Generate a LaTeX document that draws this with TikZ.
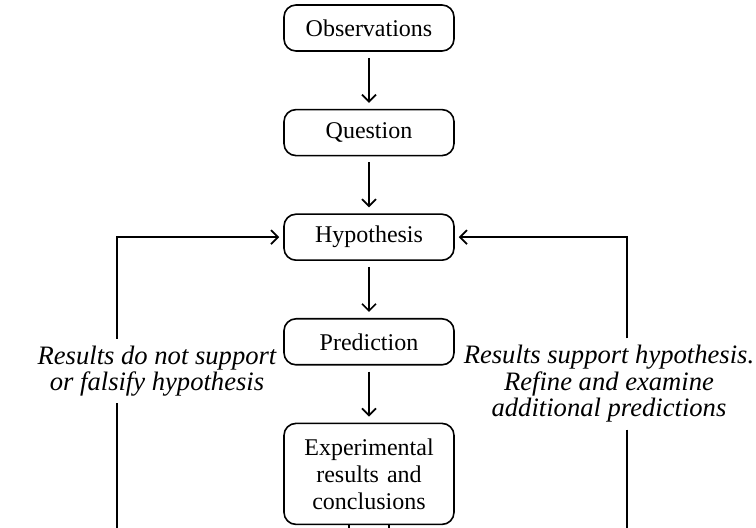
\documentclass[tikz,border=0pt]{standalone}
\usepackage{fontspec}
\setmainfont{Liberation Serif}
\usetikzlibrary{positioning}
\usetikzlibrary{arrows.meta}

\begin{document}
\begin{tikzpicture}[x=0.5pt,y=-0.5pt,
                stepbox/.style={draw,rounded corners=6pt,line width=0.8pt,
                    minimum width=85pt,minimum height=23pt,align=center,
                    font=\fontsize{12}{13.5}\selectfont},
                remark/.style={align=center,font=\fontsize{13.3}{13.2}\selectfont\itshape},
                flow/.style={-{Straight Barb[length=3.5pt,width=7pt]},line width=0.85pt,
                    shorten >=3pt,shorten <=3pt},
                loop/.style={-{Straight Barb[length=3.5pt,width=7pt]},line width=0.85pt},
                node distance=28.5pt]
   \useasboundingbox (0,0) rectangle (756,528);
   \node[stepbox] (obs) at (369,28) {Observations};
   \node[stepbox,below=of obs] (quest) {Question};
   \node[stepbox,below=of quest] (hyp) {Hypothesis};
   \node[stepbox,below=of hyp] (pred) {Prediction};
   \node[stepbox,below=of pred,text width=70pt,minimum height=50.5pt,inner sep=4pt] (exp) {Experimental\\results and\\conclusions};
   % side paths
   \coordinate (lx) at (117,0);
   \coordinate (rx) at (627,0);
   \coordinate (bot) at (371,560);
   \node[remark] (nosupport) at (157,371) {Results do not support\\or falsify hypothesis};
   \node[remark] (support) at (609,384) {Results support hypothesis.\\Refine and examine\\additional predictions};
   \draw[flow] (obs) -- (quest);
   \draw[flow] (quest) -- (hyp);
   \draw[flow] (hyp) -- (pred);
   \draw[flow] (pred) -- (exp);
   \draw[loop] (nosupport.north -| lx) |- ([xshift=-2pt]hyp.west);
   \draw[line width=0.85pt] (nosupport.south -| lx) -- (lx |- bot);
   \draw[loop] (support.north -| rx) |- ([xshift=2pt]hyp.east);
   \draw[line width=0.85pt] (support.south -| rx) -- (rx |- bot);
   \draw[line width=0.85pt] ([xshift=-10pt]exp.south) -- ([xshift=-10pt]exp.south |- bot);
   \draw[line width=0.85pt] ([xshift=10pt]exp.south) -- ([xshift=10pt]exp.south |- bot);
\end{tikzpicture}
\end{document}
